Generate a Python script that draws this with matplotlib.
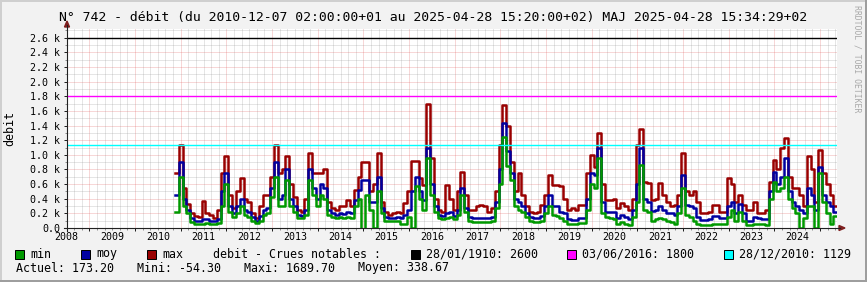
import numpy as np
import matplotlib.pyplot as plt
from matplotlib.lines import Line2D
from matplotlib.patches import Polygon, Rectangle

W, H = 867, 282

# debit mensuel (m3/s), premier mois = fin novembre 2010
debut = 2010.875

debit_max = [750, 1130, 550, 330, 200, 170, 150, 370, 200, 180, 140, 250,
             750, 980, 450, 280, 500, 680, 400, 360, 200, 130, 300, 450,
             450, 700, 1130, 750, 800, 980, 600, 420, 250, 220, 400, 1020,
             750, 750, 750, 800, 350, 280, 250, 300, 300, 380, 300, 520,
             700, 900, 900, 500, 600, 1020, 350, 220, 180, 200, 220, 200,
             340, 500, 920, 920, 680, 590, 1689.7, 950, 400, 250, 220, 590,
             400, 250, 500, 770, 450, 250, 250, 300, 320, 300, 220, 270,
             500, 1130, 1680, 1400, 900, 500, 750, 450, 300, 220, 200, 220,
             310, 450, 730, 590, 590, 570, 400, 250, 270, 250, 310, 310,
             750, 1000, 840, 1300, 600, 380, 380, 400, 280, 340, 300, 250,
             400, 1130, 1360, 630, 610, 380, 400, 610, 450, 350, 300, 320,
             450, 1020, 500, 450, 500, 350, 200, 200, 220, 310, 310, 220,
             220, 680, 600, 360, 450, 320, 250, 250, 360, 200, 200, 250,
             630, 930, 800, 1090, 1230, 700, 540, 550, 450, 300, 980, 800,
             350, 1070, 750, 600, 450, 300]

debit_moy = [450, 900, 400, 250, 130, 100, 90, 120, 120, 100, 90, 120,
             500, 750, 300, 200, 300, 400, 250, 220, 150, 100, 160, 250,
             280, 550, 900, 400, 450, 800, 400, 300, 180, 170, 250, 800,
             550, 400, 600, 550, 250, 200, 180, 200, 190, 220, 200, 380,
             520, 650, 650, 350, 350, 700, 270, 150, 130, 140, 150, 130,
             180, 250, 500, 700, 500, 380, 1100, 600, 300, 180, 160, 200,
             220, 170, 250, 550, 280, 150, 130, 130, 130, 130, 130, 150,
             350, 800, 1430, 1050, 750, 400, 350, 300, 200, 150, 140, 140,
             160, 300, 450, 300, 300, 220, 200, 120, 110, 110, 130, 140,
             400, 750, 720, 1100, 350, 220, 220, 220, 130, 180, 150, 120,
             250, 600, 1090, 400, 350, 230, 250, 300, 250, 200, 200, 180,
             300, 720, 320, 300, 270, 150, 110, 110, 120, 170, 170, 130,
             130, 300, 350, 200, 330, 200, 100, 90, 150, 130, 120, 120,
             500, 770, 600, 700, 950, 500, 350, 300, 250, 200, 550, 450,
             250, 840, 450, 350, 300, 220]

debit_min = [220, 700, 300, 200, 80, 60, 50, 60, 70, 60, 50, 70,
             300, 600, 220, 150, 200, 300, 180, 150, 100, 70, 100, 180,
             200, 420, 700, 300, 300, 650, 300, 220, 130, 130, 180, 650,
             450, 300, 450, 400, 180, 150, 140, 150, 140, 150, 130, 300,
             400, -54.3, 450, 250, 0, 500, 200, 100, 90, 90, 100, 50,
             50, 150, 0, 580, 400, 250, 950, 450, 220, 130, 120, 130,
             150, 120, 180, 450, 220, 100, 80, 80, 80, 80, 80, 100,
             280, 600, 1250, 850, 650, 300, 250, 220, 150, 90, 80, 80,
             100, 200, 300, 180, 170, 130, 100, 60, 60, 60, 70, 70,
             250, 600, 550, 950, 200, 150, 140, 120, 50, 80, 60, 40,
             150, 350, 860, 250, 220, 100, 120, 140, 120, 100, 80, 60,
             200, 540, 180, 150, 100, 50, 40, 40, 40, 60, 60, 60,
             60, 150, 250, 100, 220, 100, 40, 40, 60, 60, 50, 40,
             400, 630, 500, 550, 700, 400, 270, 200, 0, 130, 300, 300,
             0, 750, 350, 200, 50, 170]

crues_dates = ["28/01/1910", "03/06/2016", "28/12/2010"]
crues_valeurs = [2600, 1800, 1129]
crues_couleurs = ["#000000", "#FF00FF", "#00FFFF"]

stats_noms = ["Actuel", "Mini", "Maxi", "Moyen"]
stats_valeurs = [173.20, -54.30, 1689.70, 338.67]

annees = list(range(2008, 2025))

titre = ("N° 742 - débit (du 2010-12-07 02:00:00+01 au 2025-04-28 15:20:00+02) "
         "MAJ 2025-04-28 15:34:29+02")

plt.rcParams['font.family'] = 'DejaVu Sans Mono'


def fx(x):
    return x / W


def fy(y):
    return 1 - y / H


fig = plt.figure(figsize=(W / 100, H / 100), dpi=100, facecolor='#F2F2F2')
ax = fig.add_axes([fx(67), fy(228), (837 - 67) / W, (228 - 29) / H])
ax.set_facecolor('white')

n = len(debit_moy)
t = debut + np.arange(n + 1) / 12


def pas(v):
    return list(v) + [v[-1]]


ax.plot(t, pas(debit_max), drawstyle='steps-post', color='#990000', lw=1.8, zorder=3)
ax.plot(t, pas(debit_moy), drawstyle='steps-post', color='#0000A0', lw=1.8, zorder=4)
ax.plot(t, pas(debit_min), drawstyle='steps-post', color='#009900', lw=1.8, zorder=5)

for v, c in zip(crues_valeurs, crues_couleurs):
    ax.axhline(v, color=c, lw=1.0, zorder=6)

# grille : annees en rouge, tous les 2 mois en gris
ax.set_xticks(np.arange(2009, 2026))
ax.set_xticks([y + m / 6 for y in range(2008, 2026) for m in range(1, 6)], minor=True)
ax.set_yticks(np.arange(0, 2601, 200))
ax.set_yticks(np.arange(100, 2701, 200), minor=True)
ax.set_xticklabels([])
ax.set_yticklabels(["0.0" if v == 0 else f"{v / 1000:.1f} k" for v in range(0, 2601, 200)],
                   fontsize=7.2)
ax.set_xlim(2008.51, 2025.37)
ax.set_ylim(0, 2720)

ax.grid(which='major', color='#DE5050', alpha=0.45, lw=0.72, ls=(0, (1, 1)))
ax.grid(which='minor', color='#8F8F8F', alpha=0.45, lw=0.72, ls=(0, (1, 1)))
ax.set_axisbelow(True)
ax.tick_params(which='major', length=2, width=0.72, color='#212121', pad=3)
ax.tick_params(which='minor', length=1.5, width=0.72, color='#8F8F8F')
for s in ax.spines.values():
    s.set_visible(False)

for a in annees:
    ax.text(a + 0.5, -9 / 199, str(a), transform=ax.get_xaxis_transform(),
            ha='center', va='center', fontsize=7.2)

# axes et fleches
fig.add_artist(Line2D([fx(67), fx(67)], [fy(231), fy(25)], color='#212121', lw=0.8))
fig.add_artist(Line2D([fx(64), fx(840)], [fy(228), fy(228)], color='#212121', lw=0.8))
fig.add_artist(Polygon([[fx(67), fy(21)], [fx(64.5), fy(27)], [fx(69.5), fy(27)]],
                       closed=True, color='#7F1F1F', transform=fig.transFigure))
fig.add_artist(Polygon([[fx(845), fy(228)], [fx(839), fy(225.5)], [fx(839), fy(230.5)]],
                       closed=True, color='#7F1F1F', transform=fig.transFigure))

# cadre
fig.add_artist(Line2D([0, 1], [fy(1), fy(1)], color='#CFCFCF', lw=1.44))
fig.add_artist(Line2D([fx(1), fx(1)], [0, 1], color='#CFCFCF', lw=1.44))
fig.add_artist(Line2D([0, 1], [fy(281), fy(281)], color='#9E9E9E', lw=1.44))
fig.add_artist(Line2D([fx(866), fx(866)], [0, 1], color='#9E9E9E', lw=1.44))

fig.text(fx(433), fy(17), titre, ha='center', va='center', fontsize=9.45)
fig.text(fx(10), fy(128), "debit", rotation=90, ha='center', va='center', fontsize=8.4)
fig.text(fx(857), fy(5), "RRDTOOL / TOBI OETIKER", rotation=270, ha='center', va='top',
         fontsize=5.9, color='#A8A8A8')

# legende
leg_y = 254
carres = [(15, '#009900', "min"), (81, '#0000A0', "moy"), (147, '#990000', "max")]
for x, c, lab in carres:
    fig.add_artist(Rectangle((fx(x), fy(leg_y + 4.5)), 9 / W, 9 / H, facecolor=c,
                             edgecolor='black', lw=0.72, transform=fig.transFigure))
    fig.text(fx(x + 15), fy(leg_y), lab, ha='left', va='center', fontsize=8.4)
fig.text(fx(213), fy(leg_y), "debit - Crues notables :", ha='left', va='center', fontsize=8.4)

crues_x = [411, 567, 724]
for x, d, v, c in zip(crues_x, crues_dates, crues_valeurs, crues_couleurs):
    fig.add_artist(Rectangle((fx(x), fy(leg_y + 4.5)), 9 / W, 9 / H, facecolor=c,
                             edgecolor='black', lw=0.72, transform=fig.transFigure))
    fig.text(fx(x + 15), fy(leg_y), f"{d}: {v}", ha='left', va='center', fontsize=8.4)

stats_x = [16, 137, 244, 358]
for x, nom, v in zip(stats_x, stats_noms, stats_valeurs):
    fig.text(fx(x), fy(268), f"{nom}: {v:.2f}", ha='left', va='center', fontsize=8.4)

fig.savefig('out.png', dpi=100, facecolor=fig.get_facecolor())
